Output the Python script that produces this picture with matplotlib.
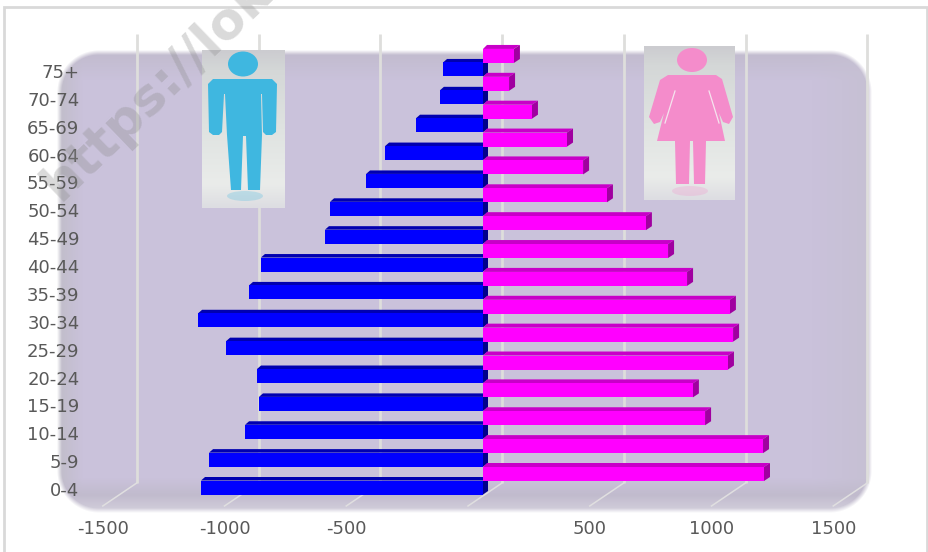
import numpy as np
import matplotlib
matplotlib.use('Agg')
import matplotlib.pyplot as plt
from matplotlib.patches import Polygon, Ellipse

plt.rcParams['axes.unicode_minus'] = False

ages = ['0-4', '5-9', '10-14', '15-19', '20-24', '25-29', '30-34', '35-39',
        '40-44', '45-49', '50-54', '55-59', '60-64', '65-69', '70-74', '75+']
male = [1158, 1125, 977, 920, 928, 1055, 1170, 961,
        912, 649, 628, 480, 402, 275, 177, 164]
female = [1154, 1150, 912, 862, 1006, 1027, 1014, 838,
          760, 669, 509, 411, 345, 201, 107, 127]
xticks = [-1500, -1000, -500, 500, 1000, 1500]
grid_values = [-1500, -1000, -500, 0, 500, 1000, 1500]

W, H = 929, 552
SX = 0.2435   # px per person
SY = 27.87    # px per age group
X0 = 468      # px of zero on the front plane
Y0 = 489      # px of the 0-4 label


def px_x(d):
    return d / SX


def px_y(d):
    return d / SY


fig = plt.figure(figsize=(W / 100, H / 100), dpi=100, facecolor='white')

# rounded panel behind the plot, soft edges
bg = fig.add_axes([0, 0, 1, 1])
bg.axis('off')

xx, yy = np.meshgrid(np.arange(W) + 0.5, np.arange(H) + 0.5)
x1, x2, y1, y2, r = 57, 872, 50, 513, 42
qx = np.abs(xx - (x1 + x2) / 2) - ((x2 - x1) / 2 - r)
qy = np.abs(yy - (y1 + y2) / 2) - ((y2 - y1) / 2 - r)
sdf = np.hypot(np.maximum(qx, 0), np.maximum(qy, 0)) + np.minimum(np.maximum(qx, qy), 0) - r

panel = np.ones((H, W, 4))
panel[..., :3] = np.array([0xca, 0xc2, 0xdb]) / 255
top = np.clip((yy - y1) / 30, 0, 1)[..., None]
panel[..., :3] = panel[..., :3] * top + np.array([0xc1, 0xbb, 0xcd]) / 255 * (1 - top)
left = np.clip((xx - x1) / 26, 0, 1)[..., None]
panel[..., :3] = panel[..., :3] * left + np.array([0xc0, 0xbd, 0xc8]) / 255 * (1 - left)
right = np.clip((x2 - xx) / 60, 0, 1)[..., None]
panel[..., :3] = panel[..., :3] * right + np.array([0xc6, 0xc0, 0xd3]) / 255 * (1 - right)
low = np.clip((yy - 478) / 17, 0, 1)[..., None]
panel[..., :3] = panel[..., :3] * (1 - low) + np.array([0xc1, 0xbb, 0xcd]) / 255 * low
low2 = np.clip((yy - 495) / 18, 0, 1)[..., None]
panel[..., :3] = panel[..., :3] * (1 - low2) + np.array([0xd5, 0xd1, 0xde]) / 255 * low2
panel[..., 3] = np.clip(-sdf / 5, 0, 1)
bg.imshow(panel, extent=(0, W, H, 0), aspect='auto', interpolation='bilinear')
bg.set_xlim(0, W)
bg.set_ylim(H, 0)

# outer chart frame
bg.plot([4.5, 4.5, 927, 927], [552, 6.5, 6.5, 552], color='#d9d9d9', lw=2, solid_joinstyle='miter')

# main axes: front plane of the 3d chart
ax_l, ax_r, ax_t, ax_b = 85, 872, 30, 513
ax = fig.add_axes([ax_l / W, 1 - ax_b / H, (ax_r - ax_l) / W, (ax_b - ax_t) / H])
ax.patch.set_alpha(0)
ax.set_xlim((ax_l - X0) / SX, (ax_r - X0) / SX)
ax.set_ylim((Y0 - ax_b) / SY, (Y0 - ax_t) / SY)
for s in ax.spines.values():
    s.set_visible(False)

ax.set_xticks(xticks)
ax.set_yticks(range(len(ages)))
ax.set_yticklabels(ages)
ax.tick_params(length=0, labelcolor='#595959', labelsize=13)
ax.tick_params(axis='x', pad=5)
ax.tick_params(axis='y', pad=4)

# back wall grid and floor lines
back_x = px_x(34)
back_y = px_y(Y0 - 483)
front_y = px_y(Y0 - 506)
wall_top = px_y(Y0 - 34)
for v in grid_values:
    ax.plot([v + back_x, v + back_x], [back_y, wall_top], color='#dededc', lw=2,
            solid_capstyle='butt', clip_on=False, zorder=1)
    ax.plot([v + back_x, v], [back_y, front_y], color='#e0dfe0', lw=1.1, clip_on=False, zorder=1)

y = np.arange(len(ages))
bar_h = px_y(14)
m_y = y + px_y(1.5)
f_y = y + px_y(15)
base_off = px_x(15)

ax.barh(m_y, -np.array(male), left=base_off, height=bar_h, color='#0000ff', zorder=3)
ax.barh(f_y, female, left=base_off, height=bar_h, color='#ff00ff', zorder=5)

# top and end faces of the bars
for i in range(len(ages)):
    x_a, x_b = base_off - male[i], base_off
    t = m_y[i] + bar_h / 2
    b = m_y[i] - bar_h / 2
    ax.add_patch(Polygon([(x_a, t), (x_a + px_x(4), t + px_y(3.5)), (x_b + px_x(5), t + px_y(3.5)), (x_b, t)],
                         color='#0000b0', lw=0, zorder=2.9))
    ax.add_patch(Polygon([(x_b, b), (x_b + px_x(5), b + px_y(3.5)), (x_b + px_x(5), t + px_y(3.5)), (x_b, t)],
                         color='#00008c', lw=0, zorder=2.9))

    x_a, x_b = base_off, base_off + female[i]
    t = f_y[i] + bar_h / 2
    b = f_y[i] - bar_h / 2
    ax.add_patch(Polygon([(x_a, t), (x_a + px_x(4), t + px_y(4)), (x_b + px_x(6), t + px_y(4)), (x_b, t)],
                         color='#c800c8', lw=0, zorder=4.9))
    ax.add_patch(Polygon([(x_b, b), (x_b + px_x(6), b + px_y(4)), (x_b + px_x(6), t + px_y(4)), (x_b, t)],
                         color='#a000a0', lw=0, zorder=4.9))

# overlay for the two pictures and the watermark
over = fig.add_axes([0, 0, 1, 1])
over.axis('off')


def icon_back(x0, x1, y0, y1):
    t = np.linspace(0, 1, 100)
    c = np.ones((100, 1, 3))
    stops = [0, 0.12, 0.5, 0.85, 1]
    c[:, 0, 0] = np.interp(t, stops, [0xcc, 0xd4, 0xdf, 0xea, 0xdd]) / 255
    c[:, 0, 1] = np.interp(t, stops, [0xcc, 0xd7, 0xe3, 0xec, 0xdd]) / 255
    c[:, 0, 2] = np.interp(t, stops, [0xd0, 0xd7, 0xe1, 0xea, 0xe2]) / 255
    over.imshow(c, extent=(x0, x1, y1, y0), aspect='auto', zorder=1)


icon_back(202, 285, 50, 208)
icon_back(644, 735, 46, 200)
over.set_xlim(0, W)
over.set_ylim(H, 0)

blue = '#3fb7e0'
over.add_patch(Ellipse((243, 64), 30, 25, color=blue, lw=0, zorder=2))
over.add_patch(Polygon([(213, 79), (272, 79), (277, 84), (276, 132), (272, 135), (266, 135), (263, 132),
                        (262, 94), (261, 94), (262, 135), (260, 190), (248, 190), (246, 136), (243, 136),
                        (241, 190), (231, 190), (227, 135), (225, 94), (224, 94), (222, 132), (219, 135),
                        (213, 135), (209, 132), (208, 84)],
                       facecolor=blue, edgecolor='none', zorder=2))
over.add_patch(Ellipse((245, 196), 36, 10, color=blue, alpha=0.25, lw=0, zorder=1.5))

pink = '#f48ccb'
over.add_patch(Ellipse((692, 60), 30, 24, color=pink, lw=0, zorder=2))
over.add_patch(Polygon([(668, 75), (716, 75), (722, 79), (733, 117), (729, 124), (723, 122), (719, 113),
                        (725, 141), (657, 141), (664, 113), (660, 122), (654, 124), (649, 117), (660, 80)],
                       facecolor=pink, edgecolor='none', zorder=2))
over.add_patch(Polygon([(675, 141), (690, 141), (689, 184), (676, 184)], color=pink, lw=0, zorder=2))
over.add_patch(Polygon([(693, 141), (706, 141), (705, 184), (694, 184)], color=pink, lw=0, zorder=2))
over.plot([675, 665], [91, 123], color='#f4e4ee', lw=0.9, zorder=3)
over.plot([709, 719], [91, 123], color='#f4e4ee', lw=0.9, zorder=3)
over.add_patch(Ellipse((690, 191), 36, 10, color=pink, alpha=0.25, lw=0, zorder=1.5))

over.text(60, 202, 'https://loke', rotation=44, rotation_mode='anchor', ha='left', va='baseline',
          fontsize=37, fontweight='bold', color='#8c8c8c', alpha=0.32, zorder=6)

fig.savefig('out.png', dpi=100)
